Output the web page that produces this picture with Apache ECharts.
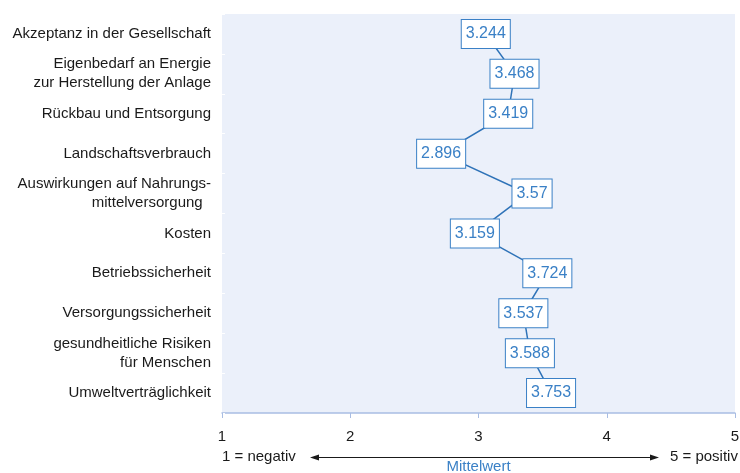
<!DOCTYPE html>
<html>
<head>
<meta charset="utf-8">
<script src="https://cdn.jsdelivr.net/npm/echarts@6/dist/echarts.min.js"></script>
<style>
html,body{margin:0;padding:0;background:#fff;}
#c{width:740px;height:473px;}
</style>
</head>
<body>
<div id="c"></div>
<script>
const categories = [
  'Akzeptanz in der Gesellschaft',
  'Eigenbedarf an Energie\nzur Herstellung der Anlage',
  'Rückbau und Entsorgung',
  'Landschaftsverbrauch',
  'Auswirkungen auf Nahrungs-\nmittelversorgung  ',
  'Kosten',
  'Betriebssicherheit',
  'Versorgungssicherheit',
  'gesundheitliche Risiken\nfür Menschen',
  'Umweltverträglichkeit'
];
const values = [3.244, 3.468, 3.419, 2.896, 3.57, 3.159, 3.724, 3.537, 3.588, 3.753];
const xTickLabels = ['1', '2', '3', '4', '5'];
const scaleLabels = ['1 = negativ', '5 = positiv'];
const axisTitle = 'Mittelwert';

const blue = '#3a80c6';
const lineBlue = '#2f73b8';
const textCol = '#1a1a1a';
const font = 'Liberation Sans, Arial, sans-serif';
const shift = 0.187; // half label-box width, in axis units

const chart = echarts.init(document.getElementById('c'), null, {renderer: 'canvas'});
const pts = values.map((v, i) => [v, i]);

chart.setOption({
  animation: false,
  textStyle: {fontFamily: font},
  grid: {left: 222, right: 5, top: 14, bottom: 60, show: true, backgroundColor: '#ebf0fa', borderWidth: 0,
    containLabel: false, outerBoundsMode: 'none'},
  xAxis: [{
    type: 'value', min: 1, max: 5, interval: 1,
    axisLine: {show: true, lineStyle: {color: '#a9bde3', width: 1.5}},
    axisTick: {show: true, length: 5, lineStyle: {color: '#a9bde3'}},
    splitLine: {show: false},
    axisLabel: {fontSize: 15, color: textCol, margin: 16, fontFamily: font,
      formatter: v => xTickLabels[Math.round(v) - 1]},
    name: axisTitle, nameLocation: 'middle', nameGap: 46,
    nameTextStyle: {color: blue, fontSize: 15, fontFamily: font}
  }, {
    type: 'value', min: 1 + shift, max: 5 + shift, show: false
  }],
  yAxis: {
    type: 'category', inverse: true, data: categories,
    axisLine: {show: false},
    axisTick: {show: true, inside: true, length: 3, lineStyle: {color: '#ffffff'}},
    splitLine: {show: false},
    axisLabel: {fontSize: 15, color: textCol, margin: 11, lineHeight: 19, fontFamily: font, align: 'right'}
  },
  series: [{
    type: 'line', xAxisIndex: 1, data: pts, showSymbol: false, symbol: 'none',
    lineStyle: {color: lineBlue, width: 1.5}, z: 2
  }, {
    type: 'scatter', xAxisIndex: 0, data: pts, symbolSize: 0,
    itemStyle: {color: blue, opacity: 1}, z: 5,
    label: {
      show: true, position: 'left', distance: 0, opacity: 1,
      formatter: p => String(p.value[0]),
      color: blue, fontSize: 16, fontFamily: font, lineHeight: 16,
      backgroundColor: '#ffffff', borderColor: blue, borderWidth: 1,
      padding: [6, 4, 6, 4]
    }
  }],
  graphic: [
    {type: 'text', left: 222, top: 449, style: {text: scaleLabels[0], font: '15px ' + font, fill: textCol}},
    {type: 'text', left: 670, top: 449, style: {text: scaleLabels[1], font: '15px ' + font, fill: textCol}},
    {type: 'line', shape: {x1: 312, y1: 457.5, x2: 657, y2: 457.5}, style: {stroke: textCol, lineWidth: 1}},
    {type: 'polygon', shape: {points: [[310, 457.5], [319, 454.5], [319, 460.5]]}, style: {fill: textCol}},
    {type: 'polygon', shape: {points: [[659, 457.5], [650, 454.5], [650, 460.5]]}, style: {fill: textCol}}
  ]
});
</script>
</body>
</html>
